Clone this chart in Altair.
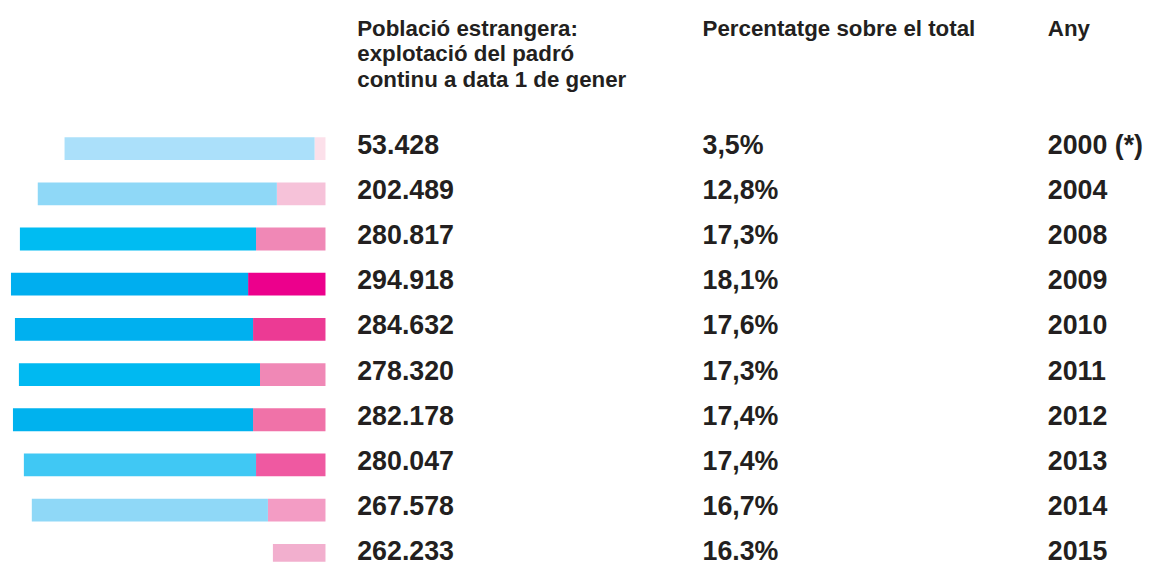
import altair as alt
import pandas as pd

# ---- data ----
years = ["2000 (*)", "2004", "2008", "2009", "2010", "2011", "2012", "2013", "2014", "2015"]
population = ["53.428", "202.489", "280.817", "294.918", "284.632",
              "278.320", "282.178", "280.047", "267.578", "262.233"]
percent = ["3,5%", "12,8%", "17,3%", "18,1%", "17,6%",
           "17,3%", "17,4%", "17,4%", "16,7%", "16.3%"]
# decorative bar segments (lengths as drawn, no axis in the original)
blue_len = [252, 241, 238, 239, 240, 243, 242, 234, 238, 0]
pink_len = [11, 49, 70, 78, 73, 66, 73, 70, 58, 53]
blue_colors = ["#ABE0FA", "#8FD8F7", "#00BCF2", "#00AEEF", "#00B0EF",
               "#00B9F1", "#00B2EE", "#40C8F4", "#8FD8F7", "#FFFFFF"]
pink_colors = ["#FCE0EA", "#F6C2D9", "#F088B6", "#EC008C", "#EC3A94",
               "#F088B6", "#F072A8", "#EF59A1", "#F39CC4", "#F2AFCE"]

headers = ["Població estrangera:\nexplotació del padró\ncontinu a data 1 de gener",
           "Percentatge sobre el total",
           "Any"]

# ---- tables ----
seg_rows = []
keys, cols = [], []
for i in range(len(years)):
    p, b = pink_len[i], blue_len[i]
    seg_rows.append({"row": i, "start": 0, "end": p, "key": f"{i}-p"})
    keys.append(f"{i}-p"); cols.append(pink_colors[i])
    if b > 0:
        seg_rows.append({"row": i, "start": p, "end": p + b, "key": f"{i}-b"})
        keys.append(f"{i}-b"); cols.append(blue_colors[i])
segs = pd.DataFrame(seg_rows)

txt = pd.DataFrame({"row": list(range(len(years))), "pop": population,
                    "pct": percent, "year": years})
hdr = pd.DataFrame({"h": headers, "col": [0, 1, 2]})

W, H = 1136, 556
Y0, STEP = 139.5, 45.55
yscale = alt.Scale(domain=[-Y0 / STEP, (H - Y0) / STEP], reverse=True,
                   nice=False, zero=False, padding=0)
FONT = "Liberation Sans"
INK = "#231F20"

bars = alt.Chart(segs).mark_bar(size=23, clip=True).encode(
    x=alt.X("start:Q", scale=alt.Scale(domain=[0, 320], range=[320, 0], padding=0), axis=None),
    x2="end:Q",
    y=alt.Y("row:Q", scale=yscale, axis=None),
    color=alt.Color("key:N", scale=alt.Scale(domain=keys, range=cols), legend=None),
)

def col_text(field, xpos):
    return alt.Chart(txt).mark_text(
        align="left", baseline="alphabetic", dy=5, font=FONT,
        fontWeight="bold", fontSize=27, color=INK,
    ).encode(x=alt.value(xpos), y=alt.Y("row:Q", scale=yscale, axis=None),
             text=f"{field}:N")

def header_text(idx, xpos):
    return alt.Chart(hdr).transform_filter(alt.datum.col == idx).mark_text(
        align="left", baseline="alphabetic", font=FONT, fontWeight="bold",
        fontSize=22.5, lineHeight=25.5, lineBreak="\n", color=INK,
    ).encode(x=alt.value(xpos), y=alt.value(26), text="h:N")

chart = alt.layer(
    bars,
    col_text("pop", 352), col_text("pct", 700), col_text("year", 1048),
    header_text(0, 352), header_text(1, 700), header_text(2, 1048),
).properties(width=W, height=H, padding=0).configure_view(stroke=None)

chart.save("out.html", embed_options={"renderer": "svg", "actions": False})
